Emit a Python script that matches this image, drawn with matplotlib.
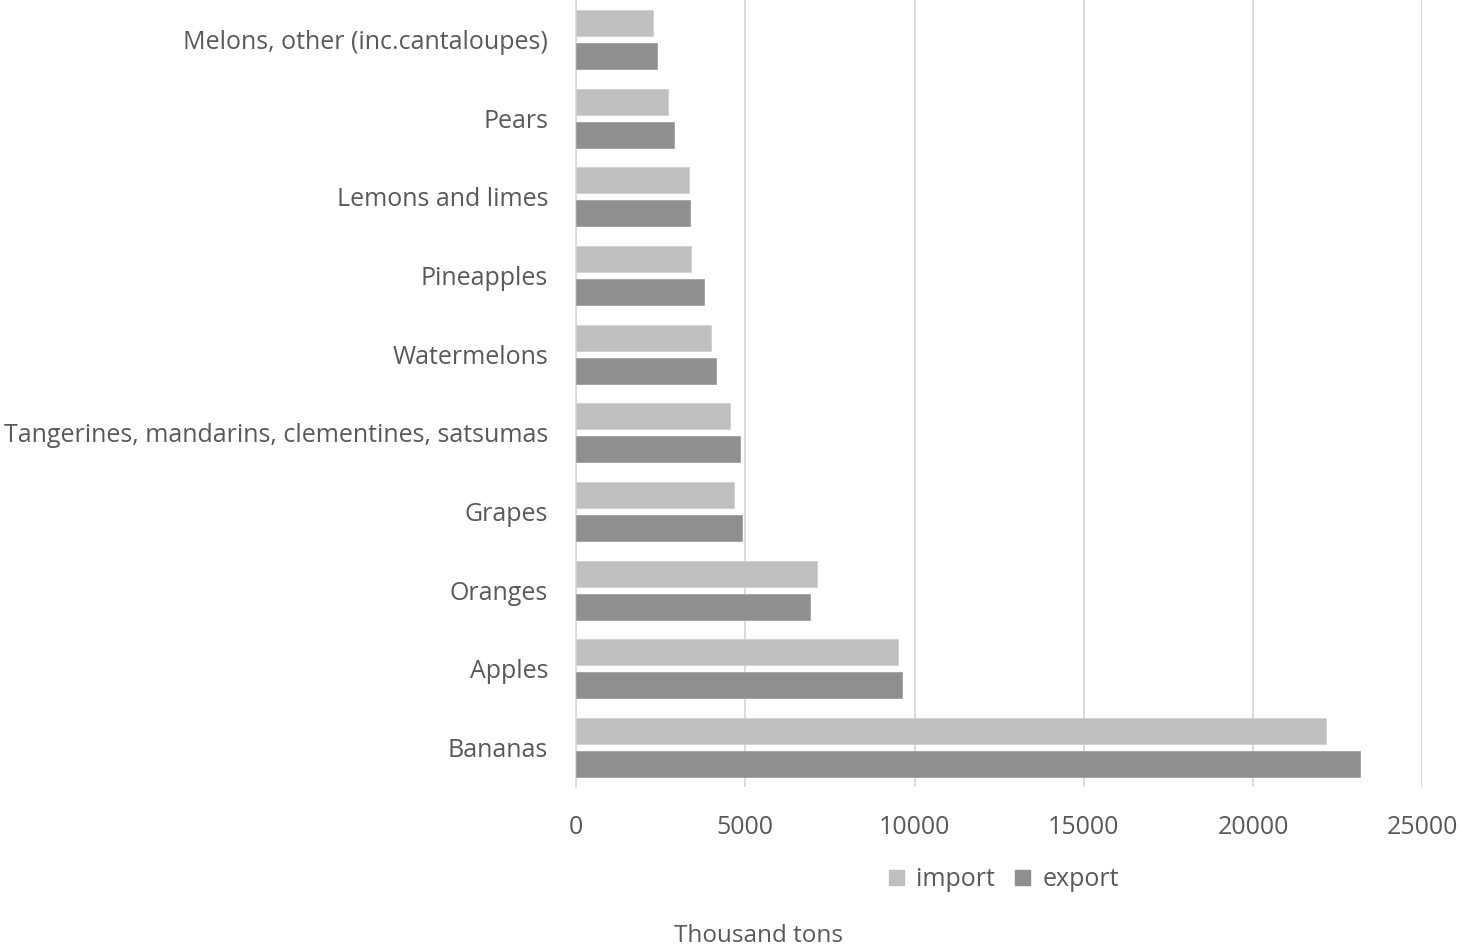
import matplotlib.pyplot as plt
import numpy as np
from matplotlib.patches import Patch

# Fruit trade, thousand tons (bottom to top as drawn)
categories = [
    "Bananas",
    "Apples",
    "Oranges",
    "Grapes",
    "Tangerines, mandarins, clementines, satsumas",
    "Watermelons",
    "Pineapples",
    "Lemons and limes",
    "Pears",
    "Melons, other (inc.cantaloupes)",
]
import_values = [22150, 9520, 7120, 4680, 4560, 3990, 3400, 3340, 2720, 2270]
export_values = [23150, 9630, 6920, 4890, 4830, 4140, 3780, 3370, 2900, 2390]
x_ticks = [0, 5000, 10000, 15000, 20000, 25000]

IMPORT_COLOR = "#bfbfbf"
EXPORT_COLOR = "#8f8f8f"
TEXT_COLOR = "#595959"
GRID_COLOR = "#d9d9d9"

plt.rcParams["font.family"] = ["Open Sans", "DejaVu Sans"]

fig = plt.figure(figsize=(14.59, 9.47), dpi=100)
ax = fig.add_axes([0.3948, 0.169, 0.58, 0.831])

y = np.arange(len(categories))
offset = 0.21
height = 0.33
ax.barh(y + offset, import_values, height=height, color=IMPORT_COLOR,
        edgecolor="#d0d0d0", linewidth=0.6, zorder=3)
ax.barh(y - offset, export_values, height=height, color=EXPORT_COLOR,
        edgecolor="#a0a0a0", linewidth=0.6, zorder=3)

ax.set_xlim(0, 25000)
ax.set_ylim(-0.5, len(categories) - 0.5)
ax.set_xticks(x_ticks)
ax.set_xticklabels([str(t) for t in x_ticks])
ax.set_yticks(y)
ax.set_yticklabels(categories)

ax.xaxis.grid(True, color=GRID_COLOR, linewidth=1.3, zorder=0)
ax.set_axisbelow(True)
for side in ["top", "right", "bottom"]:
    ax.spines[side].set_visible(False)
ax.spines["left"].set_color(GRID_COLOR)
ax.spines["left"].set_linewidth(1.3)

ax.tick_params(axis="both", length=0, labelsize=18, labelcolor=TEXT_COLOR)
ax.tick_params(axis="x", pad=20)
ax.tick_params(axis="y", pad=20)

handles = [Patch(color=IMPORT_COLOR, label="import"),
           Patch(color=EXPORT_COLOR, label="export")]
fig.legend(handles=handles, loc="center", bbox_to_anchor=(0.688, 0.071),
           ncol=2, frameon=False, fontsize=18, labelcolor=TEXT_COLOR,
           handlelength=0.6, handleheight=0.6, handletextpad=0.5,
           columnspacing=0.8)

fig.text(0.52, 0.012, "Thousand tons", ha="center", va="center",
         fontsize=17.5, color=TEXT_COLOR)

fig.savefig("out.png", dpi=100)
